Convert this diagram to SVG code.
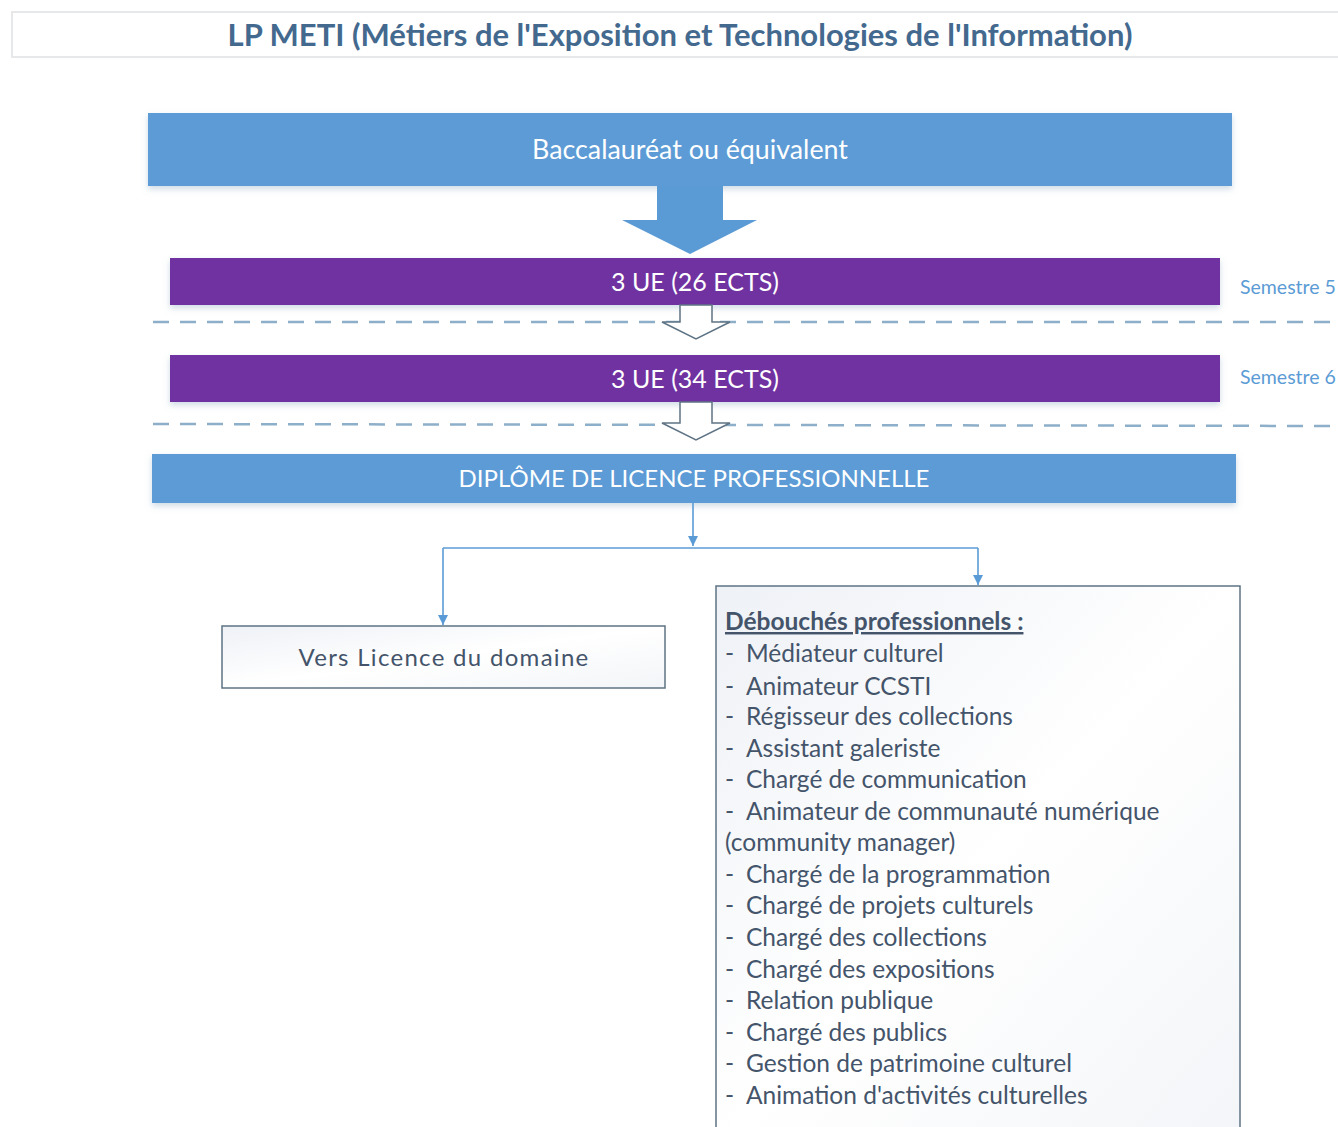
<svg xmlns="http://www.w3.org/2000/svg" width="1338" height="1127" viewBox="0 0 1338 1127">
<style>
.t{font-family:Lato,"Open Sans","Liberation Sans",sans-serif}
.w{fill:#fff}
.sem{fill:#5B9BD5;font-size:19.5px}
.li{fill:#44546A;font-size:24.5px}
.dash{stroke:#8EAFC9;stroke-width:2.5;stroke-dasharray:16 11;fill:none}
.conn{stroke:#5B9BD5;stroke-width:1.6;fill:none}
.hollow{fill:#fff;stroke:#5E7384;stroke-width:1.5}
</style>
<defs>
<marker id="arr" viewBox="0 0 10 10" refX="10" refY="5" markerWidth="10" markerHeight="12" orient="auto" markerUnits="userSpaceOnUse">
<path d="M0,0 L10,5 L0,10 Z" fill="#5B9BD5"/>
</marker>
<linearGradient id="g" x1="0" y1="0" x2="1" y2="1">
<stop offset="0" stop-color="#EEF1F6"/>
<stop offset="0.5" stop-color="#FFFFFF"/>
<stop offset="1" stop-color="#F3F5F8"/>
</linearGradient>
<filter id="sh" x="-5%" y="-20%" width="110%" height="150%">
<feDropShadow dx="0" dy="3" stdDeviation="3" flood-color="#9DB6CC" flood-opacity="0.5"/>
</filter>
</defs>
<rect width="1338" height="1127" fill="#fff"/>

<g id="title">
<rect x="12" y="12" width="1340" height="45" fill="#fff" stroke="#E6E8EA" stroke-width="2"/>
<text class="t" x="680" y="46" text-anchor="middle" font-size="31" font-weight="bold" fill="#44698F">LP METI (Métiers de l'Exposition et Technologies de l'Information)</text>
</g>

<g id="bac">
<rect x="148" y="113" width="1084" height="73" fill="#5B9BD5" filter="url(#sh)"/>
<text class="t w" x="690" y="159" text-anchor="middle" font-size="26.8">Baccalauréat ou équivalent</text>
</g>

<g id="arrow-bac">
<path d="M657,186 L723,186 L723,220 L757,220 L690,254 L622,220 L657,220 Z" fill="#5B9BD5"/>
</g>

<g id="s5">
<rect x="170" y="258" width="1050" height="47" fill="#7030A0" filter="url(#sh)"/>
<text class="t w" x="695" y="291" text-anchor="middle" font-size="25">3 UE (26 ECTS)</text>
<text class="t sem" x="1240" y="294">Semestre 5</text>
</g>

<g id="s6">
<rect x="170" y="355" width="1050" height="47" fill="#7030A0" filter="url(#sh)"/>
<text class="t w" x="695" y="388" text-anchor="middle" font-size="25">3 UE (34 ECTS)</text>
<text class="t sem" x="1240" y="384">Semestre 6</text>
</g>

<g id="separators">
<line class="dash" x1="153" y1="322" x2="1338" y2="322"/>
<line class="dash" x1="153" y1="424" x2="1338" y2="426"/>
</g>

<g id="hollow-arrows">
<path class="hollow" d="M680,305 L712,305 L712,322 L730,322 L696,339 L662,322 L680,322 Z"/>
<path class="hollow" d="M680,402 L712,402 L712,423 L730,423 L696,440 L662,423 L680,423 Z"/>
</g>

<g id="diplome">
<rect x="152" y="454" width="1084" height="49" fill="#5B9BD5" filter="url(#sh)"/>
<text class="t w" x="694" y="487" text-anchor="middle" font-size="24">DIPLÔME DE LICENCE PROFESSIONNELLE</text>
</g>

<g id="connectors">
<line class="conn" x1="693" y1="503" x2="693" y2="546" marker-end="url(#arr)"/>
<polyline class="conn" points="443,548 978,548"/>
<line class="conn" x1="443" y1="548" x2="443" y2="625" marker-end="url(#arr)"/>
<line class="conn" x1="978" y1="548" x2="978" y2="585" marker-end="url(#arr)"/>
</g>

<g id="licence">
<rect x="222" y="626" width="443" height="62" fill="url(#g)" stroke="#5E7384" stroke-width="1.5"/>
<text class="t" x="444" y="666" text-anchor="middle" font-size="24" fill="#44546A" letter-spacing="1.3">Vers Licence du domaine</text>
</g>

<g id="debouches">
<rect x="716" y="586" width="524" height="560" fill="url(#g)" stroke="#5E7384" stroke-width="1.5"/>
<text class="t" x="725" y="630" font-size="24.5" font-weight="bold" fill="#44546A" text-decoration="underline">Débouchés professionnels :</text>
<g class="t li">
<text x="725" y="662">-</text><text x="746" y="662">Médiateur culturel</text>
<text x="725" y="695">-</text><text x="746" y="695">Animateur CCSTI</text>
<text x="725" y="725">-</text><text x="746" y="725">Régisseur des collections</text>
<text x="725" y="757">-</text><text x="746" y="757">Assistant galeriste</text>
<text x="725" y="788">-</text><text x="746" y="788">Chargé de communication</text>
<text x="725" y="820">-</text><text x="746" y="820">Animateur de communauté numérique</text>
<text x="725" y="851">(community manager)</text>
<text x="725" y="883">-</text><text x="746" y="883">Chargé de la programmation</text>
<text x="725" y="914">-</text><text x="746" y="914">Chargé de projets culturels</text>
<text x="725" y="946">-</text><text x="746" y="946">Chargé des collections</text>
<text x="725" y="978">-</text><text x="746" y="978">Chargé des expositions</text>
<text x="725" y="1009">-</text><text x="746" y="1009">Relation publique</text>
<text x="725" y="1041">-</text><text x="746" y="1041">Chargé des publics</text>
<text x="725" y="1072">-</text><text x="746" y="1072">Gestion de patrimoine culturel</text>
<text x="725" y="1104">-</text><text x="746" y="1104">Animation d'activités culturelles</text>
</g>
</g>
</svg>
